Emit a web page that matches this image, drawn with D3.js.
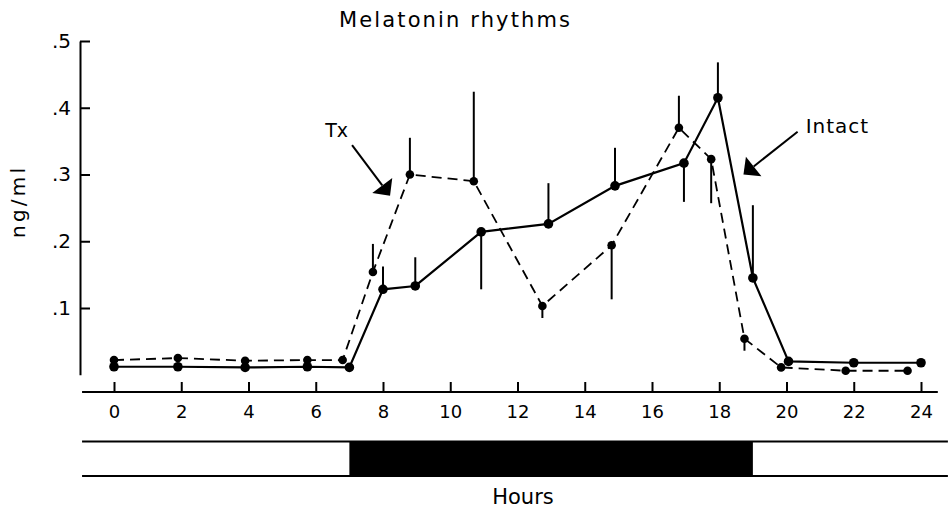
<!DOCTYPE html>
<html>
<head>
<meta charset="utf-8">
<script src="https://cdn.jsdelivr.net/npm/d3@7"></script>
<style>
  body { margin: 0; background: #fff; }
  svg { display: block; font-family: "DejaVu Sans", sans-serif; }
</style>
</head>
<body>
<svg id="chart"></svg>
<script>
// Intact animals (solid line)
const intactHours  = [0, 1.9, 3.9, 5.75, 7.0, 8.0, 8.96, 10.92, 12.92, 14.9, 16.95, 17.96, 19.0, 20.06, 22.0, 24.0];
const intactValues = [0.012, 0.012, 0.011, 0.012, 0.011, 0.128, 0.133, 0.214, 0.226, 0.283, 0.317, 0.415, 0.145, 0.020, 0.018, 0.018];
const intactErrEnd = [null, null, null, null, null, 0.162, 0.176, 0.128, 0.287, 0.34, 0.259, 0.468, 0.254, null, null, null];

// Tx animals (dashed line)
const txHours  = [0, 1.9, 3.9, 5.75, 6.8, 7.7, 8.8, 10.7, 12.74, 14.8, 16.8, 17.76, 18.75, 19.84, 21.76, 23.6];
const txValues = [0.022, 0.025, 0.021, 0.022, 0.022, 0.154, 0.300, 0.29, 0.103, 0.194, 0.37, 0.323, 0.054, 0.011, 0.006, 0.006];
const txErrEnd = [null, null, null, null, null, 0.196, 0.355, 0.424, 0.085, 0.113, 0.418, 0.257, 0.036, null, null, null];

const xTicks = [0, 2, 4, 6, 8, 10, 12, 14, 16, 18, 20, 22, 24];
const yTicks = [0.1, 0.2, 0.3, 0.4, 0.5];
const darkPeriod = [7, 19];
const lightBarExtent = [-0.95, 24.8];
const xAxisExtent = [-0.95, 24.5];

const width = 950;
const height = 508;

const svg = d3.select("#chart")
    .attr("width", width)
    .attr("height", height);

const x = d3.scaleLinear().domain([0, 24]).range([114, 921]);
const y = d3.scaleLinear().domain([0, 0.5]).range([374.75, 41]);

// title
svg.append("text")
    .attr("x", 339)
    .attr("y", 27)
    .attr("textLength", 231)
    .attr("lengthAdjust", "spacing")
    .style("font-size", "21px")
    .text("Melatonin  rhythms");

// y axis
const yAxis = d3.axisLeft(y)
    .tickValues(yTicks)
    .tickSizeInner(-10)
    .tickSizeOuter(0)
    .tickPadding(9)
    .tickFormat(d => "." + Math.round(d * 10));

const gy = svg.append("g")
    .attr("transform", "translate(80,0)")
    .call(yAxis);
gy.selectAll("path, line").attr("stroke", "#000").attr("stroke-width", 2);
gy.selectAll("text")
    .style("font-size", "20px")
    .style("font-family", "DejaVu Sans, sans-serif")
    .attr("fill", "#000");

svg.append("text")
    .attr("transform", "translate(25,203) rotate(-90)")
    .attr("text-anchor", "middle")
    .attr("textLength", 70)
    .attr("lengthAdjust", "spacing")
    .style("font-size", "20px")
    .text("ng/ml");

// x axis
const xAxis = d3.axisBottom(x)
    .tickValues(xTicks)
    .tickSizeInner(-10)
    .tickSizeOuter(0)
    .tickPadding(13);

const gx = svg.append("g")
    .attr("transform", "translate(0,392)")
    .call(xAxis);
gx.select(".domain").remove();
gx.append("line")
    .attr("x1", x(xAxisExtent[0]))
    .attr("x2", x(xAxisExtent[1]))
    .attr("stroke", "#000")
    .attr("stroke-width", 2);
gx.selectAll("line").attr("stroke", "#000").attr("stroke-width", 2);
gx.selectAll("text")
    .style("font-size", "18px")
    .style("font-family", "DejaVu Sans, sans-serif")
    .attr("fill", "#000");

// light/dark bar
svg.append("rect")
    .attr("x", x(darkPeriod[0]))
    .attr("y", 442)
    .attr("width", x(darkPeriod[1]) - x(darkPeriod[0]))
    .attr("height", 34)
    .attr("fill", "#000");

[441.5, 476].forEach(yy => {
    svg.append("line")
        .attr("x1", x(lightBarExtent[0]))
        .attr("x2", x(lightBarExtent[1]))
        .attr("y1", yy)
        .attr("y2", yy)
        .attr("stroke", "#000")
        .attr("stroke-width", 2);
});

svg.append("text")
    .attr("x", 523)
    .attr("y", 504)
    .attr("text-anchor", "middle")
    .style("font-size", "21px")
    .text("Hours");

// series
const series = [
    { hours: txHours, values: txValues, err: txErrEnd, dash: "10,6", width: 1.8, r: 4.3 },
    { hours: intactHours, values: intactValues, err: intactErrEnd, dash: null, width: 2.2, r: 4.8 }
];

const line = d3.line()
    .x(d => x(d.h))
    .y(d => y(d.v));

series.forEach(s => {
    const pts = s.hours.map((h, i) => ({ h: h, v: s.values[i], e: s.err[i] }));

    svg.append("path")
        .datum(pts)
        .attr("d", line)
        .attr("fill", "none")
        .attr("stroke", "#000")
        .attr("stroke-width", s.width)
        .attr("stroke-dasharray", s.dash);

    svg.append("g")
        .selectAll("line")
        .data(pts.filter(d => d.e != null))
        .join("line")
        .attr("x1", d => x(d.h))
        .attr("x2", d => x(d.h))
        .attr("y1", d => y(d.v))
        .attr("y2", d => y(d.e))
        .attr("stroke", "#000")
        .attr("stroke-width", 2);

    svg.append("g")
        .selectAll("circle")
        .data(pts)
        .join("circle")
        .attr("cx", d => x(d.h))
        .attr("cy", d => y(d.v))
        .attr("r", s.r)
        .attr("fill", "#000");
});

// annotation arrows
const arrows = [
    { label: "Tx", labelAt: [6.28, 0.356], from: [7.08, 0.344], to: [8.21, 0.268] },
    { label: "Intact", labelAt: [20.57, 0.362], from: [20.33, 0.364], to: [18.72, 0.30] }
];

arrows.forEach(a => {
    const x0 = x(a.from[0]), y0 = y(a.from[1]);
    const x1 = x(a.to[0]), y1 = y(a.to[1]);
    const len = Math.hypot(x1 - x0, y1 - y0);
    const ux = (x1 - x0) / len, uy = (y1 - y0) / len;
    const headLen = 13, halfW = 12.5;
    const bx = x1 - ux * headLen, by = y1 - uy * headLen;

    svg.append("line")
        .attr("x1", x0).attr("y1", y0)
        .attr("x2", bx).attr("y2", by)
        .attr("stroke", "#000")
        .attr("stroke-width", 2);

    svg.append("path")
        .attr("d", `M${x1},${y1}L${bx - uy * halfW},${by + ux * halfW}L${bx + uy * halfW},${by - ux * halfW}Z`)
        .attr("fill", "#000");

    svg.append("text")
        .attr("x", x(a.labelAt[0]))
        .attr("y", y(a.labelAt[1]))
        .style("font-size", a.label === "Tx" ? "19px" : "20px")
        .style("letter-spacing", a.label === "Tx" ? "0px" : "1px")
        .text(a.label);
});
</script>
</body>
</html>
